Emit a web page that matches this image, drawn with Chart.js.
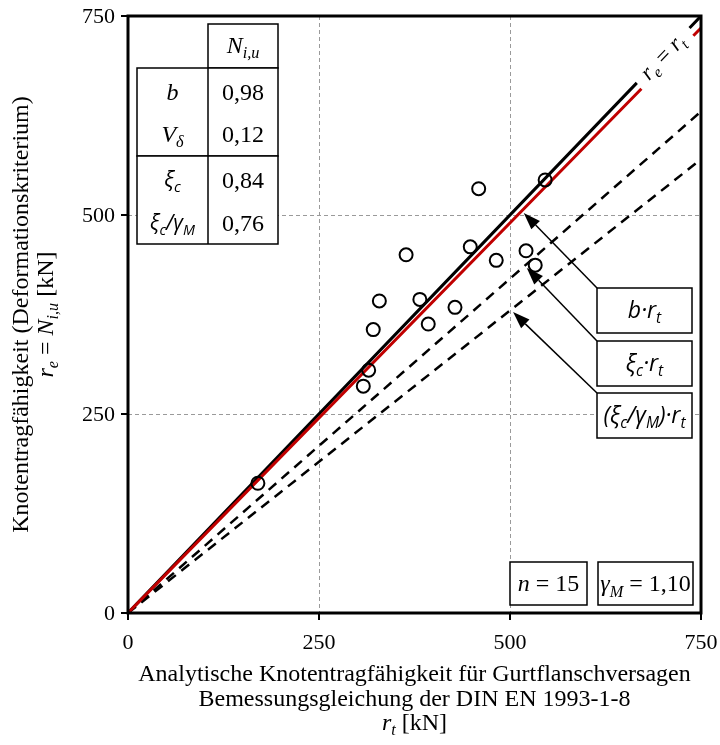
<!DOCTYPE html>
<html>
<head>
<meta charset="utf-8">
<script src="https://cdn.jsdelivr.net/npm/chart.js@4/dist/chart.umd.min.js"></script>
<style>
  html, body { margin: 0; padding: 0; background: #fff; }
</style>
</head>
<body>
<canvas id="chart" width="720" height="745"></canvas>
<script>
// test results: analytical resistance r_t vs. measured resistance r_e [kN]
const rt = [170, 308, 315, 321, 329, 364, 382, 393, 428, 448, 459, 482, 521, 533, 546];
const re = [163, 285, 305, 356, 392, 450, 394, 363, 384, 460, 533, 443, 455, 437, 544];

// statistics
const bFactor = 0.98;
const vDelta = 0.12;
const xiC = 0.84;
const gammaM = 1.10;
const xiCGamma = 0.76;
const nTests = rt.length;

const tickValues = [0, 250, 500, 750];
const axisMax = 750;

const serif = '"Liberation Serif", "Times New Roman", serif';
const sans = '"Open Sans", "DejaVu Sans", sans-serif';

// ray y = k*x over the axis range, optionally broken for the label
function ray(k, gap) {
  if (!gap) return [{ x: 0, y: 0 }, { x: axisMax, y: k * axisMax }];
  return [
    { x: 0, y: 0 },
    { x: gap[0], y: k * gap[0] },
    { x: (gap[0] + gap[1]) / 2, y: null },
    { x: gap[1], y: k * gap[1] },
    { x: axisMax, y: k * axisMax }
  ];
}

// rich text: parts = [{t, i, s, f}]  i=italic, s=subscript, f='sans'
function fontOf(p, size) {
  const sz = p.s ? size * 0.68 : size;
  return (p.i ? 'italic ' : '') + sz.toFixed(1) + 'px ' + (p.f === 'sans' ? sans : serif);
}
function rich(ctx, parts, x, midY, size, align) {
  let w = 0;
  parts.forEach(p => { ctx.font = fontOf(p, size); p.w = ctx.measureText(p.t).width; w += p.w; });
  let cx = align === 'left' ? x : align === 'right' ? x - w : x - w / 2;
  const base = midY + size * 0.33;
  ctx.textAlign = 'left';
  ctx.textBaseline = 'alphabetic';
  parts.forEach(p => {
    ctx.font = fontOf(p, size);
    ctx.fillText(p.t, cx, base + (p.s ? size * 0.22 : 0));
    cx += p.w;
  });
}
const T = (t, o) => Object.assign({ t }, o || {});
const I = { i: 1 }, IS = { i: 1, s: 1 }, SI = { i: 1, f: 'sans' }, SIS = { i: 1, s: 1, f: 'sans' };

function seg(ctx, x1, y1, x2, y2) {
  ctx.beginPath(); ctx.moveTo(x1, y1); ctx.lineTo(x2, y2); ctx.stroke();
}
function arrow(ctx, x1, y1, x2, y2) {
  const ang = Math.atan2(y2 - y1, x2 - x1);
  const len = 17, half = 6;
  const bx = x2 - len * Math.cos(ang), by = y2 - len * Math.sin(ang);
  seg(ctx, x1, y1, bx, by);
  ctx.beginPath();
  ctx.moveTo(x2, y2);
  ctx.lineTo(bx + half * Math.sin(ang), by - half * Math.cos(ang));
  ctx.lineTo(bx - half * Math.sin(ang), by + half * Math.cos(ang));
  ctx.closePath();
  ctx.fill();
}
function box(ctx, x, y, w, h) {
  ctx.fillStyle = '#fff';
  ctx.fillRect(x, y, w, h);
  ctx.strokeRect(x, y, w, h);
  ctx.fillStyle = '#000';
}

const decorations = {
  id: 'decorations',
  afterDraw(chart) {
    const { ctx, chartArea: a, scales: { x, y } } = chart;
    ctx.save();
    ctx.strokeStyle = '#000';
    ctx.fillStyle = '#000';

    // frame, tick marks and tick labels
    ctx.lineWidth = 3;
    ctx.strokeRect(a.left, a.top, a.right - a.left, a.bottom - a.top);
    ctx.lineWidth = 2;
    tickValues.forEach(v => {
      const px = x.getPixelForValue(v), py = y.getPixelForValue(v);
      seg(ctx, px, a.bottom, px, a.bottom + 7);
      seg(ctx, a.left - 7, py, a.left, py);
      rich(ctx, [T(String(v))], px, a.bottom + 29, 22, 'center');
      rich(ctx, [T(String(v))], a.left - 13, py, 22, 'right');
    });

    // label on the r_e = r_t line
    const ang = Math.atan2(y.getPixelForValue(axisMax) - y.getPixelForValue(0),
                           x.getPixelForValue(axisMax) - x.getPixelForValue(0));
    ctx.save();
    ctx.translate(x.getPixelForValue(699), y.getPixelForValue(699));
    ctx.rotate(ang);
    rich(ctx, [T('r', I), T('e', IS), T(' = '), T('r', I), T('t', IS)], 0, 0, 23, 'center');
    ctx.restore();

    // statistics table
    ctx.lineWidth = 1.5;
    const tl = a.left + 9, tm = a.left + 80, tr = a.left + 150;
    const r0 = a.top + 8, r1 = a.top + 52, r2 = a.top + 140, r3 = a.top + 228;
    box(ctx, tm, r0, tr - tm, r1 - r0);
    box(ctx, tl, r1, tr - tl, r2 - r1);
    box(ctx, tl, r2, tr - tl, r3 - r2);
    seg(ctx, tm, r1, tm, r3);
    const c1 = (tl + tm) / 2, c2 = (tm + tr) / 2;
    const fmt = v => v.toFixed(2).replace('.', ',');
    rich(ctx, [T('N', I), T('i,u', IS)], c2, r0 + 21, 24, 'center');
    rich(ctx, [T('b', I)], c1, r1 + 24, 24, 'center');
    rich(ctx, [T(fmt(bFactor))], c2, r1 + 24, 24, 'center');
    rich(ctx, [T('V', I), T('δ', IS)], c1, r1 + 66, 24, 'center');
    rich(ctx, [T(fmt(vDelta))], c2, r1 + 66, 24, 'center');
    rich(ctx, [T('ξ', SI), T('c', SIS)], c1, r2 + 24, 22, 'center');
    rich(ctx, [T(fmt(xiC))], c2, r2 + 24, 24, 'center');
    rich(ctx, [T('ξ', SI), T('c', SIS), T('/', SI), T('γ', SI), T('M', SIS)], c1, r2 + 67, 21, 'center');
    rich(ctx, [T(fmt(xiCGamma))], c2, r2 + 67, 24, 'center');

    // arrows with labelled boxes
    const bl = a.right - 104, bw = 95, bh = 45;
    const tops = [a.top + 272, a.top + 325, a.top + 377];
    const slopes = [bFactor, xiC, xiCGamma];
    const tipX = [518, 522, 504];
    const labels = [
      [T('b·r', SI), T('t', SIS)],
      [T('ξ', SI), T('c', SIS), T('·r', SI), T('t', SIS)],
      [T('(ξ', SI), T('c', SIS), T('/γ', SI), T('M', SIS), T(')·r', SI), T('t', SIS)]
    ];
    ctx.lineWidth = 1.5;
    slopes.forEach((k, i) => {
      arrow(ctx, bl, tops[i], x.getPixelForValue(tipX[i]), y.getPixelForValue(k * tipX[i]) + 4);
    });
    slopes.forEach((k, i) => {
      box(ctx, bl, tops[i], bw, bh);
      rich(ctx, labels[i], bl + bw / 2, tops[i] + bh / 2, 23, 'center');
    });

    // n and gamma_M boxes
    const bt = a.bottom - 51;
    box(ctx, a.right - 191, bt, 77, 43);
    rich(ctx, [T('n', I), T(' = ' + nTests)], a.right - 191 + 38.5, bt + 21.5, 24, 'center');
    box(ctx, a.right - 103, bt, 95, 43);
    rich(ctx, [T('γ', I), T('M', IS), T(' = ' + gammaM.toFixed(2).replace('.', ','))], a.right - 103 + 47.5, bt + 21.5, 24, 'center');

    // axis titles
    const cx = (a.left + a.right) / 2;
    rich(ctx, [T('Analytische Knotentragfähigkeit für Gurtflanschversagen')], cx, 673, 24, 'center');
    rich(ctx, [T('Bemessungsgleichung der DIN EN 1993-1-8')], cx, 698, 24, 'center');
    rich(ctx, [T('r', I), T('t', IS), T(' [kN]')], cx, 722, 24, 'center');

    const cy = (a.top + a.bottom) / 2;
    ctx.save();
    ctx.translate(20, cy);
    ctx.rotate(-Math.PI / 2);
    rich(ctx, [T('Knotentragfähigkeit (Deformationskriterium)')], 0, 0, 24, 'center');
    ctx.restore();
    ctx.save();
    ctx.translate(45, cy);
    ctx.rotate(-Math.PI / 2);
    rich(ctx, [T('r', I), T('e', IS), T(' = '), T('N', I), T('i,u', IS), T(' [kN]')], 0, 0, 24, 'center');
    ctx.restore();

    ctx.restore();
  }
};

const gridColor = c => (c.tick.value === 0 || c.tick.value === axisMax) ? 'rgba(0,0,0,0)' : '#9a9a9a';

new Chart(document.getElementById('chart'), {
  type: 'scatter',
  data: {
    datasets: [
      {
        label: 'Versuche',
        data: rt.map((v, i) => ({ x: v, y: re[i] })),
        pointRadius: 6.5,
        pointBorderWidth: 2,
        pointBorderColor: '#000',
        pointBackgroundColor: 'rgba(0,0,0,0)',
        showLine: false
      },
      {
        label: 'b·rt',
        data: ray(bFactor, [672, 740]),
        showLine: true, pointRadius: 0, borderColor: '#c00000', borderWidth: 3, spanGaps: false
      },
      {
        label: 're = rt',
        data: ray(1, [666, 735]),
        showLine: true, pointRadius: 0, borderColor: '#000', borderWidth: 3, spanGaps: false
      },
      {
        label: 'xi_c·rt',
        data: ray(xiC),
        showLine: true, pointRadius: 0, borderColor: '#000', borderWidth: 2.5, borderDash: [10, 7]
      },
      {
        label: '(xi_c/gamma_M)·rt',
        data: ray(xiCGamma),
        showLine: true, pointRadius: 0, borderColor: '#000', borderWidth: 2.5, borderDash: [10, 7]
      }
    ]
  },
  options: {
    responsive: false,
    animation: false,
    devicePixelRatio: 1,
    layout: { padding: { top: 16, right: 19, left: 0, bottom: 0 } },
    plugins: { legend: { display: false }, tooltip: { enabled: false } },
    scales: {
      x: {
        type: 'linear', min: 0, max: axisMax,
        afterBuildTicks: s => { s.ticks = tickValues.map(v => ({ value: v })); },
        afterFit: s => { s.height = 132; },
        ticks: { display: false },
        grid: { color: gridColor, lineWidth: 1, drawTicks: false },
        border: { display: false, dash: [4, 3] }
      },
      y: {
        type: 'linear', min: 0, max: axisMax,
        afterBuildTicks: s => { s.ticks = tickValues.map(v => ({ value: v })); },
        afterFit: s => { s.width = 128; },
        ticks: { display: false },
        grid: { color: gridColor, lineWidth: 1, drawTicks: false },
        border: { display: false, dash: [4, 3] }
      }
    }
  },
  plugins: [decorations]
});
</script>
</body>
</html>
